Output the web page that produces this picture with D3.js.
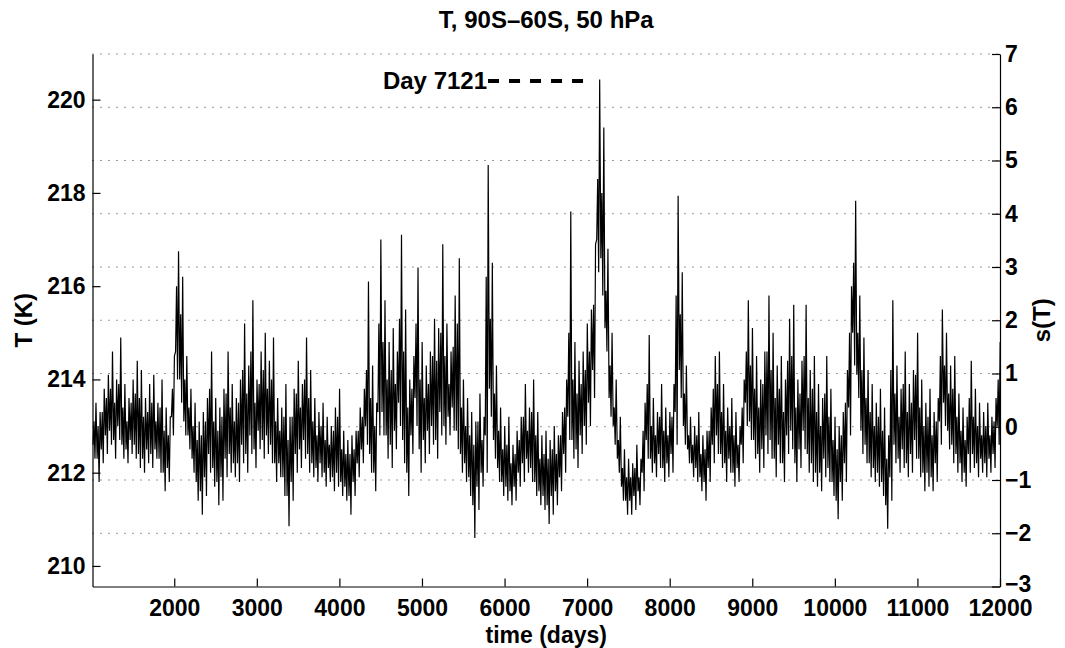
<!DOCTYPE html>
<html>
<head>
<meta charset="utf-8">
<script src="https://d3js.org/d3.v7.min.js"></script>
<style>
  html, body { margin: 0; padding: 0; background: #fff; }
  text { font-family: "Liberation Sans", Arial, Helvetica, sans-serif; font-weight: bold; fill: #000; }
</style>
</head>
<body>
<svg id="chart" width="1065" height="648"></svg>
<script>
// ---- data ----
const title = "T, 90S\u201360S, 50 hPa";
const binStart = 1010;   // first day of the record
const binWidth = 50;     // days per envelope bin
// highest value of T (K) in each 50-day bin
const hiT = [
  213.5, 213.3, 213.8, 214.1, 214.6, 214.0, 214.9, 213.9, 213.6, 214.0,
  214.4, 214.2, 213.6, 213.9, 214.1, 213.5, 214.0, 213.4, 213.2, 214.5,
  216.75, 216.2, 214.5, 213.8, 213.5, 213.1, 213.3, 213.6, 214.6, 213.6,
  213.4, 213.8, 214.6, 213.9, 213.6, 214.0, 215.2, 214.3, 215.7, 214.0,
  214.6, 215.0, 214.4, 214.9, 213.6, 213.4, 213.9, 213.2, 213.8, 214.4,
  213.9, 214.9, 214.2, 213.6, 213.3, 213.5, 213.2, 213.0, 213.4, 213.8,
  212.9, 212.7, 212.8, 212.9, 213.4, 213.8, 216.1, 214.3, 213.5, 217.0,
  215.7, 214.8, 215.1, 214.6, 217.1, 215.5, 214.0, 214.5, 216.4, 214.8,
  214.3, 214.6, 215.3, 215.1, 216.9, 215.2, 214.6, 215.8, 216.6, 214.0,
  213.6, 213.3, 213.1, 213.7, 213.2, 218.6, 216.5, 214.3, 213.4, 213.0,
  213.2, 212.6, 212.9, 213.2, 213.9, 213.4, 214.0, 213.3, 212.8, 212.9,
  212.7, 213.0, 212.8, 213.3, 214.0, 217.6, 214.8, 214.4, 214.6, 215.2,
  215.5, 216.9, 220.43, 219.4, 216.8, 215.0, 214.0, 213.2, 212.5, 212.3,
  212.2, 212.6, 212.3, 213.5, 214.95, 213.6, 213.3, 213.9, 213.4, 213.3,
  213.9, 217.94, 216.3, 214.3, 213.2, 213.0, 213.3, 212.8, 212.9, 213.4,
  214.5, 214.6, 213.9, 213.4, 213.6, 213.3, 213.0, 214.0, 215.7, 215.1,
  214.5, 214.0, 214.6, 215.8, 215.0, 214.3, 214.5, 214.0, 215.3, 215.6,
  214.0, 214.4, 215.6, 214.2, 214.5, 213.9, 213.6, 214.5, 213.8, 213.2,
  213.0, 213.3, 214.2, 216.0, 217.83, 215.8, 214.9, 214.2, 213.9, 213.5,
  213.8, 213.4, 212.8, 215.7, 214.3, 213.8, 214.6, 213.9, 214.2, 215.0,
  214.0, 213.5, 213.8, 213.3, 213.6, 215.5, 215.0, 214.3, 214.5, 213.7,
  213.4, 213.2, 214.4, 213.8, 213.5, 213.3, 213.5, 213.2, 213.6, 214.8
];
// secondary (inner) maximum in each bin
const hi2T = [
  213.1, 213.0, 213.3, 213.6, 213.8, 213.5, 213.9, 213.4, 213.1, 213.5,
  213.7, 213.6, 213.2, 213.3, 213.5, 213.1, 213.4, 212.9, 212.8, 213.8,
  216.0, 215.4, 214.0, 213.4, 213.0, 212.7, 212.8, 213.1, 213.8, 213.1,
  212.9, 213.2, 213.7, 213.4, 213.1, 213.5, 214.2, 213.7, 214.6, 213.5,
  213.9, 214.2, 213.8, 214.0, 213.1, 212.9, 213.2, 212.7, 213.2, 213.7,
  213.4, 214.0, 213.6, 213.1, 212.8, 213.0, 212.7, 212.6, 212.9, 213.2,
  212.5, 212.4, 212.4, 212.5, 212.9, 213.2, 214.2, 213.6, 213.0, 215.2,
  214.8, 214.0, 214.2, 213.9, 215.3, 214.6, 213.4, 213.8, 215.2, 214.0,
  213.6, 213.9, 214.5, 214.4, 215.0, 214.5, 213.9, 214.7, 215.2, 213.4,
  213.0, 212.8, 212.6, 213.1, 212.7, 216.2, 215.3, 213.7, 212.9, 212.5,
  212.6, 212.2, 212.4, 212.7, 213.2, 212.9, 213.3, 212.8, 212.3, 212.4,
  212.3, 212.5, 212.4, 212.8, 213.4, 215.0, 214.0, 213.7, 213.9, 214.2,
  214.6, 215.6, 218.3, 218.0, 215.9, 214.3, 213.4, 212.7, 212.1, 211.9,
  211.9, 212.1, 211.9, 212.9, 213.9, 213.0, 212.8, 213.2, 212.9, 212.8,
  213.2, 215.8, 215.4, 213.7, 212.8, 212.6, 212.8, 212.4, 212.5, 212.9,
  213.8, 213.9, 213.3, 212.9, 213.0, 212.8, 212.6, 213.4, 214.6, 214.3,
  213.8, 213.4, 213.9, 214.6, 214.2, 213.6, 213.8, 213.3, 214.4, 214.5,
  213.4, 213.7, 214.5, 213.6, 213.8, 213.3, 213.0, 213.7, 213.2, 212.7,
  212.5, 212.8, 213.5, 215.0, 216.5, 215.0, 214.2, 213.6, 213.3, 213.0,
  213.2, 212.9, 212.3, 214.2, 213.7, 213.2, 213.9, 213.3, 213.5, 214.1,
  213.4, 213.0, 213.2, 212.8, 213.1, 214.5, 214.3, 213.7, 213.8, 213.2,
  212.9, 212.7, 213.6, 213.2, 213.0, 212.8, 213.0, 212.8, 213.1, 214.0
];
// lowest value of T (K) in each 50-day bin
const loT = [
  212.3, 211.8, 212.2, 212.4, 212.6, 212.3, 212.7, 212.3, 212.2, 212.4,
  212.3, 212.1, 212.0, 212.2, 212.1, 212.3, 212.0, 211.6, 211.8, 212.8,
  214.0, 213.5, 212.8, 212.5, 212.0, 211.4, 211.1, 211.5, 212.0, 211.7,
  211.3, 211.4, 211.9, 212.0, 211.9, 211.8, 212.2, 212.0, 212.4, 212.1,
  212.5, 212.3, 212.4, 212.2, 211.8, 211.9, 211.5, 210.85, 211.4, 212.0,
  212.1, 212.3, 212.0, 211.9, 211.8, 211.9, 211.7, 211.8, 211.6, 211.7,
  211.5, 211.4, 211.1, 211.5, 211.9, 212.2, 212.6, 212.0, 211.6, 212.8,
  212.8, 212.3, 212.1, 212.5, 213.0, 212.2, 211.5, 212.4, 213.0, 212.0,
  212.2, 212.4, 212.6, 212.3, 212.8, 212.6, 212.8, 212.9, 212.5, 212.0,
  211.8, 211.5, 210.6, 211.2, 211.7, 212.0, 213.2, 212.3, 211.8, 211.5,
  211.4, 211.3, 211.4, 211.7, 211.8, 212.0, 211.8, 211.5, 211.3, 211.2,
  210.9, 211.1, 211.3, 211.6, 212.0, 212.7, 212.3, 212.1, 212.4, 212.6,
  213.0, 213.6, 216.3, 215.8, 214.6, 213.2, 212.6, 212.0, 211.4, 211.1,
  211.1, 211.2, 211.3, 211.6, 212.3, 212.0, 211.9, 212.1, 211.8, 211.9,
  212.0, 212.6, 213.6, 212.6, 212.2, 211.9, 211.8, 211.6, 211.4, 211.8,
  212.2, 212.4, 212.1, 211.8, 212.0, 211.7, 211.8, 212.2, 213.0, 212.7,
  212.3, 212.0, 212.1, 212.4, 212.3, 211.9, 212.2, 211.8, 212.4, 212.5,
  211.8, 212.1, 212.5, 212.0, 211.8, 211.7, 211.6, 211.9, 211.8, 211.5,
  211.0, 211.4, 211.8, 212.8, 214.3, 213.6, 212.4, 212.2, 211.9, 211.8,
  211.7, 211.5, 210.8, 211.4, 212.2, 212.0, 212.1, 211.9, 212.0, 212.3,
  211.9, 211.6, 211.7, 211.6, 211.8, 212.6, 213.0, 212.5, 212.2, 212.0,
  211.8, 211.7, 212.0, 212.1, 211.9, 212.0, 211.9, 212.0, 212.1, 212.6
];
// secondary (inner) minimum in each bin
const lo2T = [
  212.6, 212.3, 212.5, 212.8, 212.9, 212.7, 213.0, 212.6, 212.5, 212.7,
  212.6, 212.4, 212.3, 212.5, 212.4, 212.5, 212.3, 212.0, 212.1, 213.2,
  214.6, 214.0, 213.1, 212.8, 212.3, 211.8, 211.6, 211.9, 212.4, 212.1,
  211.8, 211.9, 212.3, 212.4, 212.2, 212.2, 212.6, 212.4, 212.8, 212.5,
  212.9, 212.7, 212.8, 212.6, 212.2, 212.2, 211.9, 211.5, 211.8, 212.4,
  212.5, 212.7, 212.4, 212.2, 212.1, 212.2, 212.0, 212.1, 211.9, 212.0,
  211.8, 211.7, 211.5, 211.8, 212.2, 212.5, 213.0, 212.4, 212.0, 213.3,
  213.3, 212.8, 212.6, 212.9, 213.5, 212.7, 212.0, 212.8, 213.6, 212.5,
  212.7, 212.9, 213.0, 212.7, 213.3, 213.0, 213.2, 213.4, 212.9, 212.4,
  212.2, 211.9, 211.3, 211.7, 212.0, 212.8, 213.8, 212.7, 212.1, 211.8,
  211.7, 211.6, 211.7, 212.0, 212.2, 212.3, 212.1, 211.8, 211.6, 211.5,
  211.3, 211.5, 211.6, 211.9, 212.4, 213.2, 212.7, 212.5, 212.8, 213.0,
  213.5, 214.2, 217.0, 216.6, 215.1, 213.6, 213.0, 212.3, 211.7, 211.4,
  211.4, 211.5, 211.6, 212.0, 212.7, 212.3, 212.2, 212.4, 212.1, 212.2,
  212.4, 213.3, 214.2, 213.0, 212.5, 212.2, 212.1, 211.9, 211.8, 212.1,
  212.6, 212.8, 212.4, 212.2, 212.3, 212.0, 212.1, 212.6, 213.5, 213.1,
  212.7, 212.4, 212.5, 212.8, 212.7, 212.3, 212.6, 212.2, 212.8, 212.9,
  212.2, 212.5, 212.9, 212.4, 212.2, 212.0, 212.0, 212.3, 212.1, 211.8,
  211.4, 211.8, 212.2, 213.4, 215.0, 214.1, 212.9, 212.6, 212.2, 212.1,
  212.0, 211.8, 211.3, 211.9, 212.6, 212.3, 212.5, 212.2, 212.4, 212.7,
  212.3, 212.0, 212.0, 211.9, 212.2, 213.1, 213.5, 212.9, 212.6, 212.4,
  212.2, 212.0, 212.4, 212.4, 212.2, 212.3, 212.2, 212.3, 212.4, 213.0
];
const xTicks = [2000, 3000, 4000, 5000, 6000, 7000, 8000, 9000, 10000, 11000, 12000];
const yLeftTicks = [210, 212, 214, 216, 218, 220];
const yRightTicks = [-3, -2, -1, 0, 1, 2, 3, 4, 5, 6, 7];
const gridTicks = [-2, -1, 0, 1, 2, 3, 4, 5, 6, 7];
const xDomain = [1010, 12000];
const sDomain = [-3, 7];
const tMean = 212.985, tStd = 1.142;    // s(T) = (T - mean) / std
const annDays = [5800, 7000];
const annT = 220.4;
const annLabel = "Day 7121";

// ---- layout ----
const L = 92.5, R = 1000, T = 54, B = 586.5;
const svg = d3.select("#chart");
svg.append("rect").attr("width", 1065).attr("height", 648).attr("fill", "#fff");

const x = d3.scaleLinear().domain(xDomain).range([L, R]);
const yR = d3.scaleLinear().domain(sDomain).range([B, T]);
const yL = d3.scaleLinear().domain(sDomain.map(s => tMean + tStd * s)).range([B, T]);

// grid (dotted, at s(T) ticks)
svg.append("g").selectAll("line").data(gridTicks).join("line")
  .attr("x1", L).attr("x2", R)
  .attr("y1", d => yR(d)).attr("y2", d => yR(d))
  .attr("stroke", "#333").attr("stroke-width", 1)
  .attr("stroke-dasharray", "1,7");

// series: inner min, inner max, min, max within each 50-day bin
const pts = [];
hiT.forEach((h, i) => {
  const d0 = binStart + i * binWidth;
  pts.push([d0 + 6, lo2T[i]]);
  pts.push([d0 + 18, hi2T[i]]);
  pts.push([d0 + 30, loT[i]]);
  pts.push([d0 + 42, h]);
});
const line = d3.line().x(d => x(d[0])).y(d => yL(d[1]));
svg.append("path").datum(pts)
  .attr("d", line).attr("fill", "none")
  .attr("stroke", "#000").attr("stroke-width", 1.2)
  .attr("stroke-linejoin", "miter");

// axes
const fs = 23;
const gx = svg.append("g").attr("transform", `translate(0,${B})`)
  .call(d3.axisBottom(x).tickValues(xTicks).tickFormat(d3.format("d"))
    .tickSizeInner(-8).tickSizeOuter(0).tickPadding(13));
const gl = svg.append("g").attr("transform", `translate(${L},0)`)
  .call(d3.axisLeft(yL).tickValues(yLeftTicks).tickFormat(d3.format("d"))
    .tickSizeInner(-8).tickSizeOuter(0).tickPadding(7));
const gr = svg.append("g").attr("transform", `translate(${R},0)`)
  .call(d3.axisRight(yR).tickValues(yRightTicks).tickFormat(d3.format("d"))
    .tickSizeInner(-8).tickSizeOuter(0).tickPadding(5));
[gx, gl, gr].forEach(g => {
  g.selectAll("path.domain").attr("stroke", "#000").attr("stroke-width", 1.2);
  g.selectAll(".tick line").attr("stroke", "#000").attr("stroke-width", 1.2);
  g.selectAll("text").attr("font-size", fs).attr("font-weight", "bold")
    .attr("font-family", "'Liberation Sans', Arial, sans-serif").attr("fill", "#000");
  g.attr("font-size", fs);
});
// keep the bottom right-axis label clear of the "12000" label
gr.selectAll(".tick text").filter(d => d === -3).attr("dy", "0.2em");

// annotation
svg.append("line")
  .attr("x1", x(annDays[0])).attr("x2", x(annDays[1]))
  .attr("y1", yL(annT)).attr("y2", yL(annT))
  .attr("stroke", "#000").attr("stroke-width", 4).attr("stroke-dasharray", "11,10");
svg.append("text").attr("x", x(annDays[0]) - 1).attr("y", yL(annT) + 8.5)
  .attr("text-anchor", "end").attr("font-size", 24).text(annLabel);

// titles
svg.append("text").attr("x", (L + R) / 2).attr("y", 28)
  .attr("text-anchor", "middle").attr("font-size", 24).text(title);
svg.append("text").attr("x", (L + R) / 2).attr("y", 643)
  .attr("text-anchor", "middle").attr("font-size", fs).text("time (days)");
svg.append("text").attr("transform", `translate(32,${(T + B) / 2}) rotate(-90)`)
  .attr("text-anchor", "middle").attr("font-size", 24).text("T (K)");
svg.append("text").attr("transform", `translate(1050,${(T + B) / 2}) rotate(-90)`)
  .attr("text-anchor", "middle").attr("font-size", 24).text("s(T)");
</script>
</body>
</html>
